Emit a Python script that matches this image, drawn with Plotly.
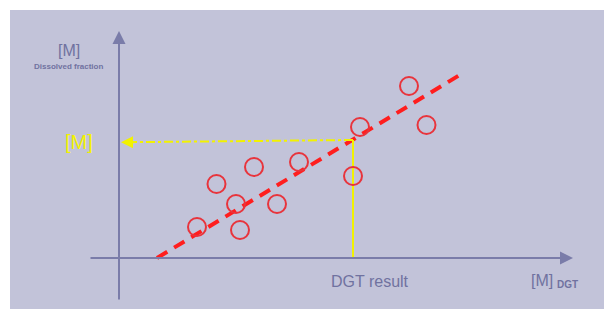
import plotly.graph_objects as go

# ---- data (chart units: origin at the axes crossing) ----
dgt = [7.8, 9.75, 11.7, 12.1, 13.5, 15.8, 18.0, 23.4, 24.1, 29.0, 30.75]
dissolved = [3.1, 7.4, 5.4, 2.8, 9.1, 5.4, 9.6, 8.2, 13.1, 17.2, 13.3]
fit_x = [3.8, 34.4]
fit_y = [0.0, 18.5]
dgt_result = 23.4
m_value = 11.8
m_value_left = 11.57

AXIS = "#7A7CA9"
TEXT = "#7072A0"
BG = "#C2C3D9"
RED = "#E8343C"
YEL = "#F2F200"
FONT = "Arial, Liberation Sans, sans-serif"

fig = go.Figure()

# fitted dashed line
fig.add_trace(go.Scatter(x=fit_x, y=fit_y, mode="lines",
                         line=dict(color="#FF1E1E", width=4, dash="12px,8px"),
                         hoverinfo="skip"))
# yellow guide lines
fig.add_trace(go.Scatter(x=[dgt_result, dgt_result], y=[0, m_value], mode="lines",
                         line=dict(color=YEL, width=2), hoverinfo="skip"))
fig.add_trace(go.Scatter(x=[dgt_result, 1.0], y=[m_value, m_value_left + 0.01], mode="lines",
                         line=dict(color=YEL, width=2, dash="dashdot"), hoverinfo="skip"))
# samples
fig.add_trace(go.Scatter(x=dgt, y=dissolved, mode="markers",
                         marker=dict(symbol="circle-open", size=18, color=RED,
                                     line=dict(width=2, color=RED)),
                         hoverinfo="skip"))

ann = []
# axes with arrowheads
ann.append(dict(x=45.4, y=0, ax=-3.0, ay=0, xref="x", yref="y", axref="x", ayref="y",
                showarrow=True, arrowhead=2, arrowsize=1.3, arrowwidth=2, arrowcolor=AXIS, text=""))
ann.append(dict(x=0, y=22.7, ax=0, ay=-4.3, xref="x", yref="y", axref="x", ayref="y",
                showarrow=True, arrowhead=2, arrowsize=1.3, arrowwidth=2, arrowcolor=AXIS, text=""))
# yellow arrowhead
ann.append(dict(x=0.2, y=m_value_left, ax=1.6, ay=m_value_left, xref="x", yref="y", axref="x", ayref="y",
                showarrow=True, arrowhead=2, arrowsize=1.2, arrowwidth=2, arrowcolor=YEL, text=""))
# labels
ann.append(dict(x=-5.05, y=20.8, xref="x", yref="y", text="[M]", showarrow=False,
                font=dict(family=FONT, size=16, color=TEXT)))
ann.append(dict(x=-5.1, y=19.2, xref="x", yref="y", text="<b>Dissolved fraction</b>", showarrow=False,
                font=dict(family=FONT, size=8, color=TEXT)))
ann.append(dict(x=-4.0, y=11.6, xref="x", yref="y", text="[M]", showarrow=False,
                font=dict(family=FONT, size=20, color=YEL)))
ann.append(dict(x=25.1, y=-2.3, xref="x", yref="y", text="DGT result", showarrow=False,
                font=dict(family=FONT, size=16, color=TEXT)))
ann.append(dict(x=42.3, y=-2.2, xref="x", yref="y", text="[M]", showarrow=False,
                font=dict(family=FONT, size=16, color=TEXT)))
ann.append(dict(x=44.85, y=-2.6, xref="x", yref="y", text="<b>DGT</b>", showarrow=False,
                font=dict(family=FONT, size=10, color=TEXT)))

fig.update_layout(
    width=604, height=311,
    margin=dict(l=0, r=0, t=0, b=0),
    paper_bgcolor="white", plot_bgcolor="white",
    showlegend=False,
    xaxis=dict(range=[-11.9, 48.5], visible=False, fixedrange=True),
    yaxis=dict(range=[-5.3, 25.8], visible=False, fixedrange=True),
    annotations=ann,
    shapes=[dict(type="rect", xref="paper", yref="paper",
                 x0=10 / 604, x1=1, y0=2 / 311, y1=301 / 311,
                 fillcolor=BG, line=dict(width=0), layer="below")],
)

fig.write_html("out.html", config={"displayModeBar": False},
               post_script="document.body.style.margin='0';document.body.style.overflow='hidden';")
